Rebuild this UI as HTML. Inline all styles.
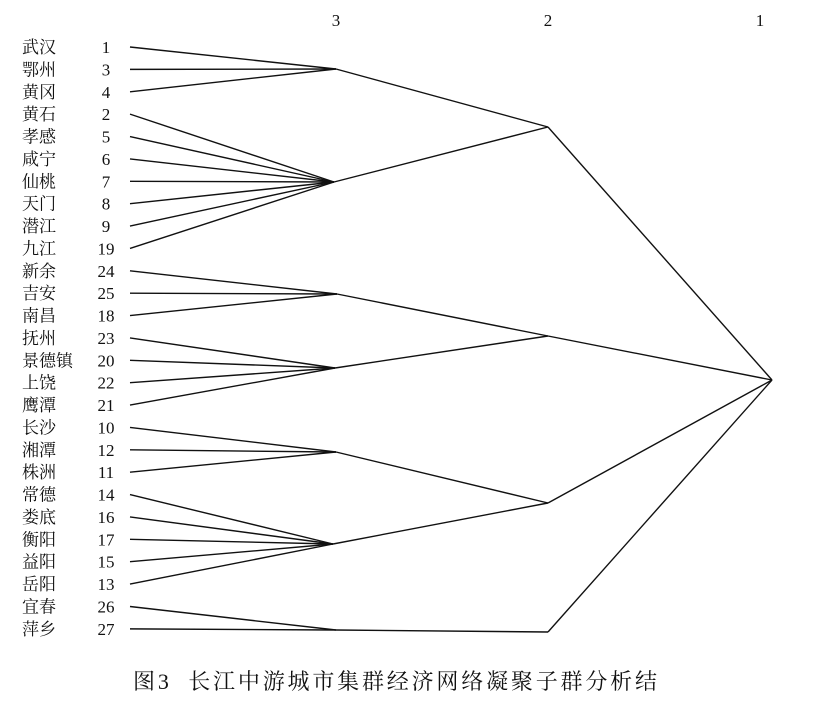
<!DOCTYPE html>
<html><head><meta charset="utf-8"><style>
html,body{margin:0;padding:0;background:#fff;}
svg text{font-family:"Liberation Serif","Noto Serif CJK SC",serif;fill:#111;}
</style></head><body>
<svg width="815" height="702" viewBox="0 0 815 702" xmlns="http://www.w3.org/2000/svg">
<g font-size="17">
<text x="336" y="26" text-anchor="middle">3</text>
<text x="548" y="26" text-anchor="middle">2</text>
<text x="760" y="26" text-anchor="middle">1</text>
</g>
<g id="labels" font-size="17"></g>
<g id="lines" stroke="#111" stroke-width="1.4" fill="none"></g>
<text x="133" y="689" font-size="22" textLength="524" lengthAdjust="spacing">图3&#160; 长江中游城市集群经济网络凝聚子群分析结</text>
<script>
var rows=[["武汉","1",0],["鄂州","3",0],["黄冈","4",0],["黄石","2",1],["孝感","5",1],["咸宁","6",1],["仙桃","7",1],["天门","8",1],["潜江","9",1],["九江","19",1],["新余","24",2],["吉安","25",2],["南昌","18",2],["抚州","23",3],["景德镇","20",3],["上饶","22",3],["鹰潭","21",3],["长沙","10",4],["湘潭","12",4],["株洲","11",4],["常德","14",5],["娄底","16",5],["衡阳","17",5],["益阳","15",5],["岳阳","13",5],["宜春","26",6],["萍乡","27",6]];
var n3=[[336,69],[334,182],[337,294],[335,368],[336,452],[333,544],[336,630]];
var n2=[[548,127],[548,336],[548,503],[548,632]];
var n1=[772,380];
var map3=[0,0,1,1,2,2,3];
var ns="http://www.w3.org/2000/svg";
var L=document.getElementById("labels"),G=document.getElementById("lines");
function line(a,b,c,d){var l=document.createElementNS(ns,"line");l.setAttribute("x1",a);l.setAttribute("y1",b);l.setAttribute("x2",c);l.setAttribute("y2",d);G.appendChild(l);}
function text(x,y,s,anc){var t=document.createElementNS(ns,"text");t.setAttribute("x",x);t.setAttribute("y",y);if(anc)t.setAttribute("text-anchor",anc);t.textContent=s;L.appendChild(t);}
rows.forEach(function(r,i){var y=47+22.38*i;text(22,y+6,r[0]);text(106,y+6,r[1],"middle");line(130,y,n3[r[2]][0],n3[r[2]][1]);});
n3.forEach(function(p,i){var q=n2[map3[i]];line(p[0],p[1],q[0],q[1]);});
n2.forEach(function(p){line(p[0],p[1],n1[0],n1[1]);});
</script>
</svg>
</body></html>
